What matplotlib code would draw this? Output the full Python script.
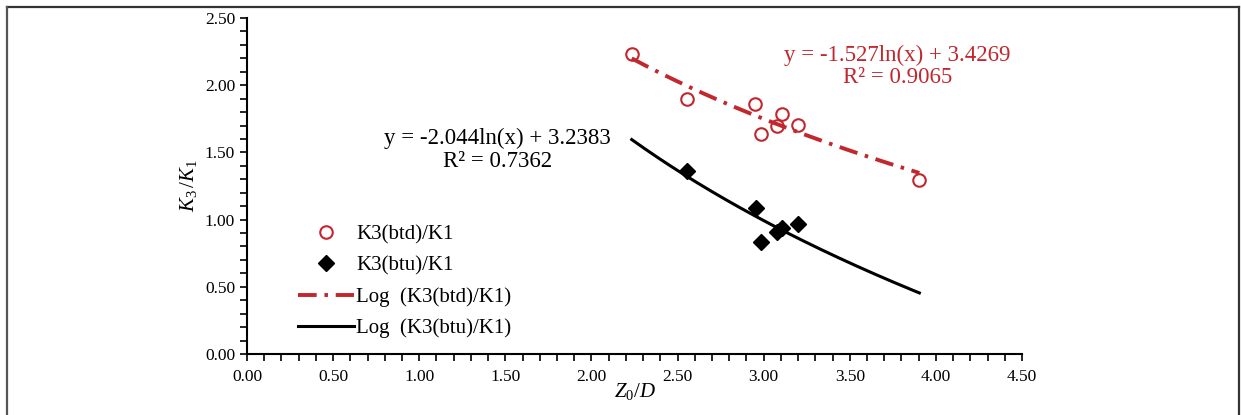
import numpy as np
import matplotlib.pyplot as plt
from matplotlib.ticker import MultipleLocator, FormatStrFormatter

plt.rcParams['font.family'] = ['Liberation Serif', 'DejaVu Serif']
plt.rcParams['mathtext.fontset'] = 'custom'
plt.rcParams['mathtext.rm'] = 'Liberation Serif'
plt.rcParams['mathtext.it'] = 'Liberation Serif:italic'

# data
x_btd = [2.234, 2.557, 2.952, 2.985, 3.076, 3.107, 3.200, 3.904]
y_btd = [2.230, 1.897, 1.862, 1.639, 1.699, 1.783, 1.704, 1.295]
x_btu = [2.557, 2.956, 2.983, 3.076, 3.109, 3.200]
y_btu = [1.364, 1.084, 0.831, 0.910, 0.940, 0.965]

# excel trendline coefficients, y = a*ln(x) + b
fit_btd = [-1.527, 3.4269]
fit_btu = [-2.044, 3.2383]
fit_range = [2.234, 3.904]

red = '#C1272D'

fig = plt.figure(figsize=(12.41, 4.15), dpi=100)
ax = fig.add_axes([247/1241, 1-354/415, (1022-247)/1241, (354-18)/415])

xx = np.linspace(fit_range[0], fit_range[1], 200)
l1, = ax.plot(x_btd, y_btd, 'o', mfc='none', mec=red, mew=1.5, ms=9, ls='none',
              label='K3(btd)/K1', zorder=4)
l2, = ax.plot(x_btu, y_btu, 'D', color='black', ms=8, ls='none',
              label='K3(btu)/K1', zorder=4)
l3, = ax.plot(xx, fit_btd[0]*np.log(xx) + fit_btd[1], color=red, lw=2.8,
              dashes=(4.8, 2.0, 0.9, 2.0), label='Log  (K3(btd)/K1)', zorder=3)
l4, = ax.plot(xx, fit_btu[0]*np.log(xx) + fit_btu[1], color='black', lw=2.2,
              label='Log  (K3(btu)/K1)', zorder=3)

ax.set_xlim(0, 4.5)
ax.set_ylim(0, 2.5)
ax.xaxis.set_major_locator(MultipleLocator(0.5))
ax.xaxis.set_minor_locator(MultipleLocator(0.1))
ax.yaxis.set_major_locator(MultipleLocator(0.5))
ax.yaxis.set_minor_locator(MultipleLocator(0.1))
ax.xaxis.set_major_formatter(FormatStrFormatter('%.2f'))
ax.yaxis.set_major_formatter(FormatStrFormatter('%.2f'))
ax.tick_params(which='both', direction='out', length=5, width=1.2, labelsize=12.5)
ax.tick_params(axis='x', pad=6)
ax.spines['top'].set_visible(False)
ax.spines['right'].set_visible(False)
ax.spines['left'].set_linewidth(1.5)
ax.spines['bottom'].set_linewidth(1.5)

ax.set_xlabel(r'$Z_0/D$', fontsize=15, labelpad=-3)
ax.set_ylabel(r'$K_3\,/K_1$', fontsize=15, labelpad=4)

ax.text(1.452, 1.52, 'y = -2.044ln(x) + 3.2383\nR² = 0.7362', fontsize=16.5,
        ha='center', va='center', linespacing=1.1)
ax.text(3.775, 2.14, 'y = -1.527ln(x) + 3.4269\nR² = 0.9065', fontsize=16.5,
        ha='center', va='center', linespacing=1.1, color=red)

ax.legend(handles=[l1, l2, l3, l4], loc='center left',
          bbox_to_anchor=(0.055, 0.216), frameon=False, fontsize=15,
          handlelength=2.7, handletextpad=0.1, labelspacing=0.56,
          borderaxespad=0)

# outer frame
fig.add_artist(plt.Line2D([7/1241, 1239/1241], [1-7/415, 1-7/415],
                          color='#333333', lw=1.6))
fig.add_artist(plt.Line2D([7/1241, 7/1241], [0, 1-7/415],
                          color='#555555', lw=1.6))
fig.add_artist(plt.Line2D([1239/1241, 1239/1241], [0, 1-7/415],
                          color='#333333', lw=1.6))

fig.savefig('out.png', dpi=100)
